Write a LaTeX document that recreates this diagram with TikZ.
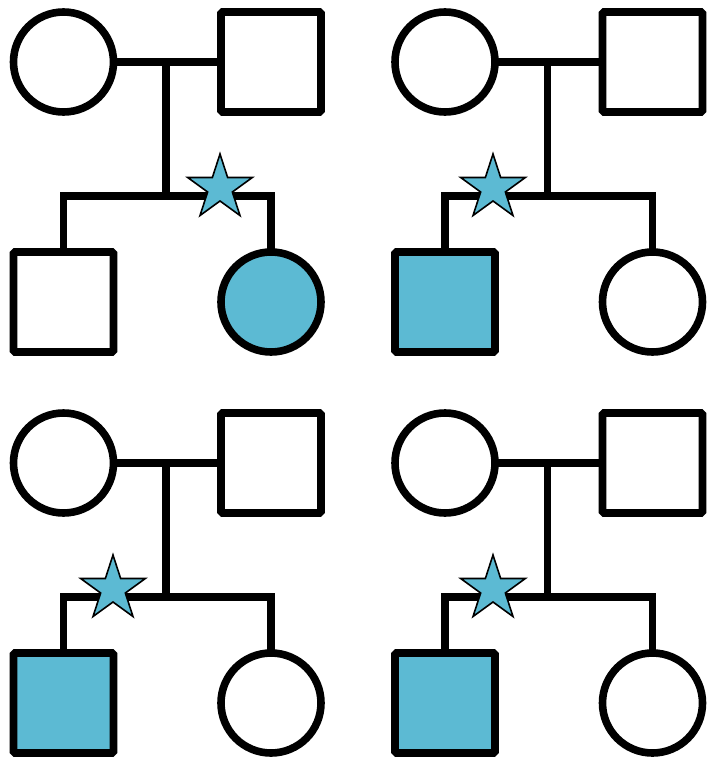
\documentclass[tikz,border=0pt]{standalone}
\usetikzlibrary{shapes.geometric}
\definecolor{affected}{RGB}{92,186,211}
\tikzset{
  person/.style={draw=black, line width=7.6pt, minimum size=100pt, inner sep=0pt, outer sep=0pt, fill=white},
  female/.style={person, circle},
  male/.style={person, rectangle, rounded corners=1.5pt},
  aff/.style={fill=affected},
  link/.style={draw=black, line width=7.2pt},
  mutstar/.style={star, star points=5, star point ratio=2.618, minimum size=68pt, inner sep=0pt, draw=black, line width=1.6pt, fill=affected}
}
\newcommand{\pedfam}[6]{%
  % #1 prefix, #2 x offset, #3 y offset, #4 child1 style, #5 child2 style, #6 star x
  \begin{scope}[shift={(#2,#3)}]
    \node[female] (#1m) at (63.5,62) {};
    \node[male] (#1f) at (271,62) {};
    \node[male,#4] (#1a) at (63.5,302) {};
    \node[female,#5] (#1b) at (271,302) {};
    \coordinate (#1mid) at (166,62);
    \coordinate (#1s) at (166,196);
    \draw[link] (#1m.east) -- (#1f.west);
    \draw[link] (#1mid) -- (#1s);
    \draw[link] (#1a.north) |- (#1s) -| (#1b.north);
    \node[mutstar] (#1star) at (#6,188) {};
  \end{scope}%
}
\begin{document}
\begin{tikzpicture}[x={(1pt,0pt)}, y={(0pt,-1pt)}]
  \useasboundingbox (0,0) rectangle (707,760);
  \pedfam{A}{0}{0}{}{aff}{220}
  \pedfam{B}{381.5}{0}{aff}{}{111.5}
  \pedfam{C}{0}{401}{aff}{}{113}
  \pedfam{D}{381.5}{401}{aff}{}{111.5}
\end{tikzpicture}
\end{document}
